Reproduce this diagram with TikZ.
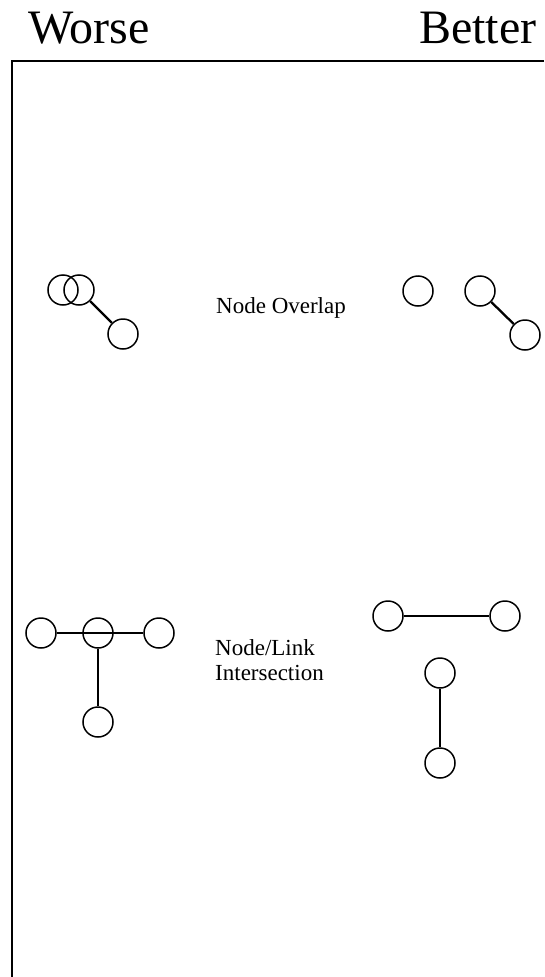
\documentclass[tikz,border=0pt]{standalone}
\usepackage{fontspec}
\setmainfont{Liberation Serif}
\usetikzlibrary{positioning,calc}
\tikzset{
  gnode/.style={circle,draw,line width=1.5pt,inner sep=0pt,minimum size=30pt},
  glink/.style={line width=1.5pt},
  olink/.style={line width=2.3pt},
  heading/.style={font=\fontsize{48}{52}\selectfont,inner sep=0pt,anchor=base west},
  caption/.style={font=\fontsize{23}{25}\selectfont,inner sep=0pt,anchor=base west,align=left}
}

\begin{document}
\begin{tikzpicture}[x=1pt,y=-1pt]
  \useasboundingbox (0,0) rectangle (544,977);
  \node[heading] (worse) at (28,43) {Worse};
  \node[heading] (better) at (419,43) {Better};
  \draw[line width=2pt] (544,61) -- (12,61) -- (12,977);
  % node overlap
  \node[gnode] (o1) at (63,290) {};
  \node[gnode] (o2) at (79,290) {};
  \node[gnode] (o3) at (123,334) {};
  \draw[olink] (o2)--(o3);
  \node[caption] (overlap) at (216,313) {Node Overlap};
  \node[gnode] (p1) at (418,291) {};
  \node[gnode] (p2) at (480,291) {};
  \node[gnode] (p3) at (525,335) {};
  \draw[olink] (p2)--(p3);
  % node/link intersection
  \node[gnode] (t1) at (41,633) {};
  \node[gnode] (t2) at (98,633) {};
  \node[gnode] (t3) at (159,633) {};
  \node[gnode] (t4) at (98,722) {};
  \draw[glink] (t1)--(t3);
  \draw[glink] (t2)--(t4);
  \node[caption] (crossing) at (215,680) {Node/Link\\Intersection};
  \node[gnode] (u1) at (388,616) {};
  \node[gnode] (u2) at (505,616) {};
  \node[gnode] (u3) at (440,673) {};
  \node[gnode] (u4) at (440,763) {};
  \draw[glink] (u1)--(u2);
  \draw[glink] (u3)--(u4);
\end{tikzpicture}
\end{document}
